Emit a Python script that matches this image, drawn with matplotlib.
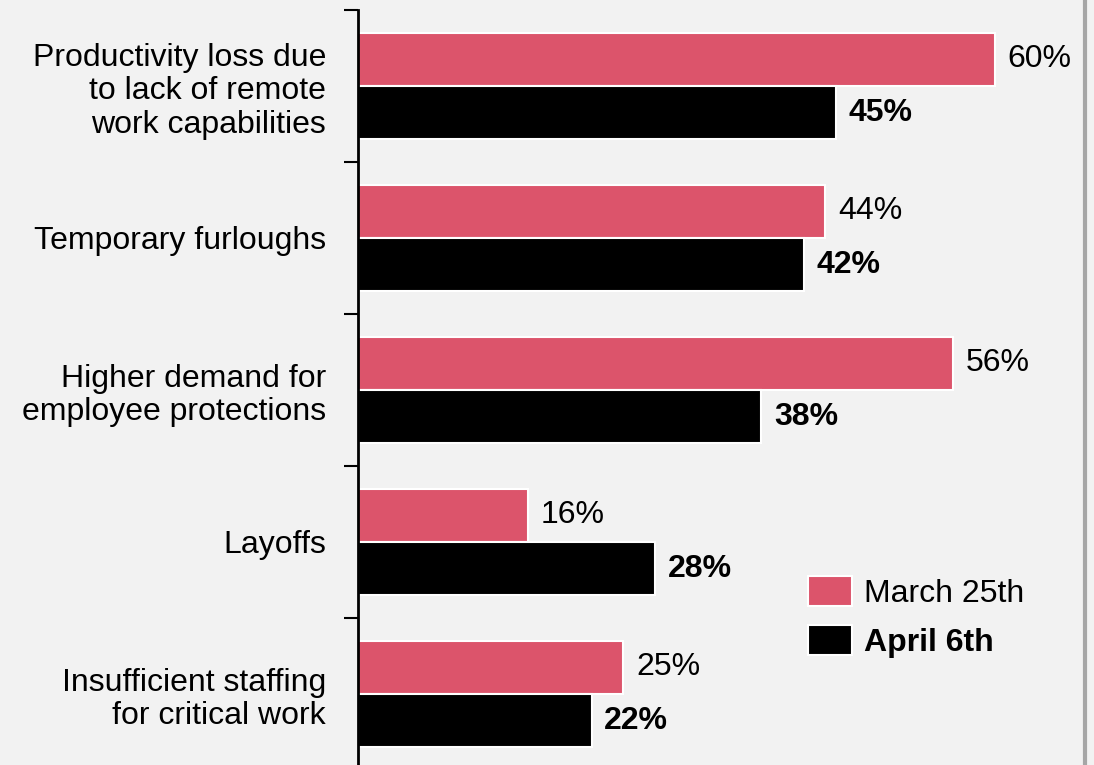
import matplotlib.pyplot as plt
from matplotlib.lines import Line2D
from matplotlib.patches import Patch
import numpy as np

plt.rcParams['font.family'] = ['Liberation Sans', 'DejaVu Sans']

# survey data: share of respondents concerned about each impact
categories = [
    "Productivity loss due\nto lack of remote\nwork capabilities",
    "Temporary furloughs",
    "Higher demand for\nemployee protections",
    "Layoffs",
    "Insufficient staffing\nfor critical work",
]
march_25 = [60, 44, 56, 16, 25]
april_6 = [45, 42, 38, 28, 22]
series_names = ["March 25th", "April 6th"]

pink = "#dc546b"
bg = "#f2f2f2"
fs = 23

fig = plt.figure(figsize=(10.94, 7.65), dpi=100, facecolor=bg)
ax = fig.add_axes([358 / 1094, -5 / 765, (1085 - 358) / 1094, 760 / 765])
ax.set_facecolor(bg)

y = np.arange(len(categories))
h = 0.35
ax.barh(y - h / 2, march_25, height=h, color=pink, edgecolor="white", linewidth=1.5)
ax.barh(y + h / 2, april_6, height=h, color="black", edgecolor="white", linewidth=1.5)

# value labels next to each bar
for i in range(len(categories)):
    ax.text(march_25[i] + 1.2, y[i] - h / 2, "{}%".format(march_25[i]),
            va="center", ha="left", fontsize=fs)
    ax.text(april_6[i] + 1.2, y[i] + h / 2, "{}%".format(april_6[i]),
            va="center", ha="left", fontsize=fs, fontweight="bold")

ax.set_xlim(0, (1085 - 358) / (637 / 60))
ax.set_ylim(len(categories) - 0.5, -0.5)
ax.set_xticks([])

# category boundaries get the tick marks, labels sit in the middle
ax.set_yticks(np.arange(len(categories) + 1) - 0.5)
ax.set_yticklabels([])
ax.set_yticks(y, minor=True)
ax.set_yticklabels(categories, minor=True, fontsize=fs, ha="right", linespacing=1.15)
ax.tick_params(axis="y", which="major", length=10, width=1.5, direction="out")
ax.tick_params(axis="y", which="minor", length=0, pad=23)

for s in ["top", "right", "bottom"]:
    ax.spines[s].set_visible(False)
ax.spines["left"].set_linewidth(2)
ax.spines["left"].set_bounds(-0.5, len(categories) - 0.5)

handles = [Patch(facecolor=pink, edgecolor="white", linewidth=1.5),
           Patch(facecolor="black", edgecolor="white", linewidth=1.5)]
leg = ax.legend(handles, series_names, loc="upper left", frameon=False,
                fontsize=fs, handlelength=1.38, handleheight=1.07,
                handletextpad=0.38, labelspacing=0.5, borderpad=0, borderaxespad=0,
                bbox_to_anchor=(808 / 1094, 1 - 576 / 765), bbox_transform=fig.transFigure)
leg.get_texts()[1].set_fontweight("bold")

# grey frame edge on the right
fig.add_artist(Line2D([1085 / 1094, 1085 / 1094], [0, 1], transform=fig.transFigure,
                      color="#a6a6a6", linewidth=3))

fig.savefig("out.png", dpi=100, facecolor=bg)
